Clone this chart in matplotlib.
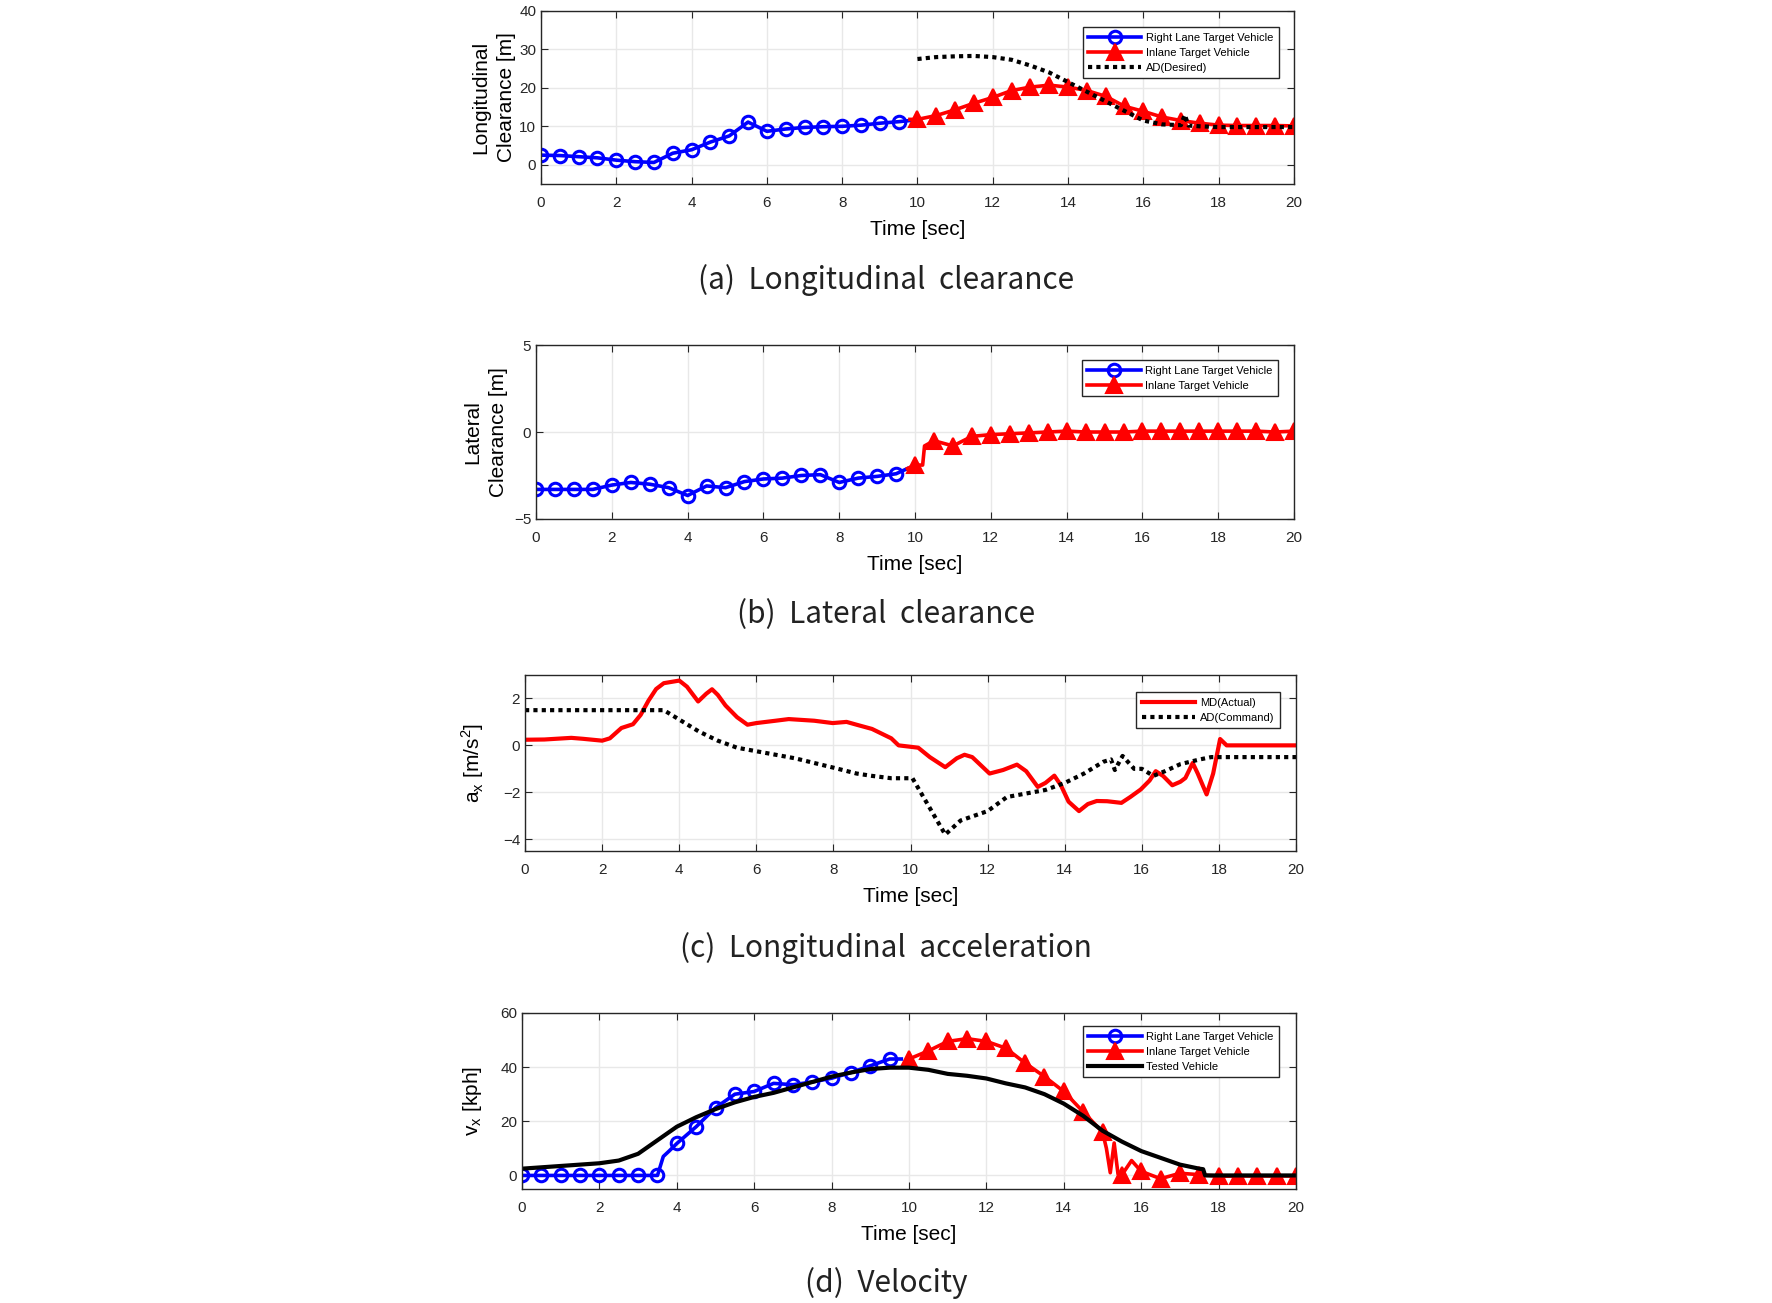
import numpy as np
import matplotlib.pyplot as plt
import matplotlib as mpl

mpl.rcParams['font.family'] = ['Liberation Sans', 'DejaVu Sans']
mpl.rcParams['xtick.direction'] = 'in'
mpl.rcParams['ytick.direction'] = 'in'
mpl.rcParams['xtick.top'] = True
mpl.rcParams['ytick.right'] = True
mpl.rcParams['xtick.labelsize'] = 11
mpl.rcParams['ytick.labelsize'] = 11
mpl.rcParams['axes.labelsize'] = 15

# ---------------- data ----------------
# (a) longitudinal clearance
ta_blue = [0, 0.5, 1, 1.5, 2, 2.5, 3, 3.5, 4, 4.5, 5, 5.5, 6, 6.5, 7, 7.5, 8, 8.5, 9, 9.5, 9.8]
ya_blue = [2.5, 2.4, 2.1, 1.8, 1.2, 0.8, 0.6, 3.0, 3.9, 5.9, 7.5, 11.1, 8.7, 9.3, 9.7, 9.9, 10.0, 10.3, 10.8, 11.2, 11.5]
ta_red = [9.8, 10, 10.5, 11, 11.5, 12, 12.5, 13, 13.5, 14, 14.5, 15, 15.5, 16, 16.5, 17, 17.5, 18, 18.5, 19, 19.5, 20]
ya_red = [11.8, 11.8, 12.8, 14.3, 16.0, 17.5, 19.3, 20.2, 20.7, 20.2, 19.3, 17.8, 15.2, 13.9, 12.4, 11.5, 10.8, 10.3, 10.2, 10.2, 10.2, 10.1]
ta_ad = [10, 10.5, 11, 11.5, 12, 12.5, 13, 13.5, 14, 14.5, 15, 15.5, 16, 16.5, 17, 17.1, 17.2, 17.5, 18, 18.5, 19, 19.5, 20]
ya_ad = [27.5, 28.0, 28.2, 28.3, 28.0, 27.3, 25.8, 24.0, 21.5, 19.0, 16.5, 14.0, 11.5, 10.5, 10.3, 13.0, 10.2, 10.0, 9.8, 9.8, 9.8, 9.8, 9.8]

# (b) lateral clearance
tb_blue = [0, 0.5, 1, 1.5, 2, 2.5, 3, 3.5, 4, 4.5, 5, 5.5, 6, 6.5, 7, 7.5, 8, 8.5, 9, 9.5, 9.8]
yb_blue = [-3.3, -3.3, -3.3, -3.3, -3.05, -2.9, -3.0, -3.2, -3.65, -3.1, -3.2, -2.85, -2.7, -2.65, -2.5, -2.45, -2.9, -2.65, -2.55, -2.4, -2.1]
tb_red = [9.8, 10, 10.2, 10.25, 10.5, 11, 11.5, 12, 12.5, 13, 13.5, 14, 14.5, 15, 15.5, 16, 16.5, 17, 17.5, 18, 18.5, 19, 19.5, 20]
yb_red = [-2.1, -1.9, -1.9, -0.8, -0.5, -0.8, -0.25, -0.15, -0.1, -0.05, 0.0, 0.05, 0.0, 0.0, 0.0, 0.05, 0.05, 0.05, 0.05, 0.05, 0.05, 0.05, 0.0, 0.05]

# (c) longitudinal acceleration
tc_md = [0, 0.5, 1.2, 1.5, 2, 2.2, 2.5, 2.8, 3, 3.2, 3.4, 3.6, 4.0, 4.2, 4.49, 4.7, 4.85, 5.0, 5.2, 5.5, 5.77,
         6.0, 6.5, 6.84, 7.5, 7.98, 8.34, 8.6, 9.0, 9.5, 9.69, 10.05, 10.2, 10.5, 10.9, 11.2, 11.4, 11.6, 12.05,
         12.4, 12.76, 13.0, 13.3, 13.5, 13.73, 13.9, 14.1, 14.37, 14.6, 14.83, 15.1, 15.47, 15.7, 15.97, 16.2,
         16.36, 16.55, 16.79, 17.0, 17.13, 17.32, 17.45, 17.68, 17.85, 18.03, 18.2, 20]
yc_md = [0.24, 0.25, 0.32, 0.28, 0.2, 0.3, 0.74, 0.9, 1.3, 1.9, 2.4, 2.65, 2.76, 2.5, 1.87, 2.2, 2.39, 2.15, 1.7, 1.2, 0.88,
         0.95, 1.05, 1.12, 1.05, 0.95, 1.0, 0.88, 0.7, 0.3, 0.0, -0.07, -0.1, -0.5, -0.93, -0.55, -0.4, -0.5, -1.2,
         -1.05, -0.82, -1.1, -1.77, -1.6, -1.29, -1.7, -2.4, -2.8, -2.5, -2.37, -2.38, -2.45, -2.2, -1.88, -1.5,
         -1.1, -1.3, -1.7, -1.55, -1.39, -0.75, -1.2, -2.09, -1.2, 0.27, 0.0, 0.0]
tc_ad = [0, 3.6, 4.0, 4.5, 5.0, 5.5, 6.0, 7.0, 8.0, 8.6, 9.0, 9.5, 10.05, 10.9, 11.3, 12.0, 12.5, 13.0, 13.5,
         14.0, 14.5, 15.0, 15.2, 15.3, 15.5, 15.8, 16.0, 16.3, 16.6, 17.0, 17.5, 17.8, 20]
yc_ad = [1.5, 1.5, 1.1, 0.6, 0.2, -0.1, -0.25, -0.55, -0.95, -1.2, -1.3, -1.4, -1.4, -3.8, -3.2, -2.8, -2.2, -2.05, -1.9,
         -1.6, -1.2, -0.7, -0.6, -1.05, -0.45, -1.0, -1.0, -1.3, -1.1, -0.8, -0.6, -0.5, -0.5]

# (d) velocity
td_blue = [0, 0.5, 1, 1.5, 2, 2.5, 3, 3.5, 3.65, 3.8, 4, 4.5, 5, 5.5, 6, 6.5, 7, 7.5, 8, 8.5, 9, 9.5, 9.8]
yd_blue = [0, 0, 0, 0, 0, 0, 0, 0, 7, 9, 11.8, 18, 25, 30, 31, 34, 33.5, 34.5, 35.9, 38, 40.5, 43, 43]
td_red = [10, 10.5, 11, 11.5, 12, 12.5, 13, 13.5, 14, 14.5, 15, 15.1, 15.2, 15.3, 15.4, 15.5, 15.75, 16, 16.5, 17,
          17.5, 18, 18.5, 19, 19.5, 20]
yd_red = [43, 46, 49.5, 50.5, 49.5, 47, 41.5, 36.5, 31, 23.5, 16, 10, 1, 12, 0.5, 0.2, 5.5, 1.5, -1.2, 0.8,
          0.3, -0.3, -0.2, -0.2, -0.2, -0.2]
td_test = [0, 1, 2, 2.5, 3, 3.5, 4, 4.5, 5, 5.5, 6, 6.5, 7, 7.5, 8, 8.5, 9, 9.5, 10, 10.5, 11, 11.5, 12, 12.5,
           13, 13.5, 14, 14.5, 15, 15.5, 16, 16.5, 17, 17.5, 17.6, 17.65, 20]
yd_test = [2.5, 3.5, 4.5, 5.5, 8, 13, 18, 21.5, 24.5, 27, 29, 30.5, 32.5, 34.5, 36.5, 38, 39.3, 39.8, 39.8, 39, 37.5,
           36.8, 35.8, 34, 32.5, 30, 26.5, 22, 16.5, 12.5, 9, 6.5, 4, 2.5, 2.3, 0, 0]

blue_style = dict(color='#0000ff', lw=2.6, marker='o', ms=9, mfc='none', mew=2.2)
red_style = dict(color='#ff0000', lw=2.6, marker='^', ms=12, mfc='#ff0000', mew=1.5)

fig = plt.figure(figsize=(17.72, 13.03), dpi=100)

def style_axes(ax, ylim, yticks):
    ax.set_xlim(0, 20)
    ax.set_ylim(*ylim)
    ax.set_xticks(range(0, 21, 2))
    ax.set_yticks(yticks)
    ax.grid(True, color='#e8e8e8', lw=1)
    ax.set_axisbelow(True)
    for s in ax.spines.values():
        s.set_color('#262626')
        s.set_linewidth(1)
    ax.tick_params(colors='#262626', length=5)
    ax.tick_params(axis='x', pad=9)
    ax.set_xlabel('Time [sec]', labelpad=7)

def add_legend(ax, anchor, fs=8):
    leg = ax.legend(loc='upper right', bbox_to_anchor=anchor, borderaxespad=0, fontsize=fs,
                    handlelength=4.8, fancybox=False, framealpha=1, edgecolor='#262626',
                    borderpad=0.5, labelspacing=0.45, handletextpad=0.4)
    leg.get_frame().set_linewidth(1)

# (a)
ax = fig.add_axes([0.3053, 0.8588, 0.4249, 0.1328])
ax.plot(ta_blue, ya_blue, markevery=list(range(20)), label='Right Lane Target Vehicle', **blue_style)
ax.plot(ta_red, ya_red, markevery=list(range(1, 22)), label='Inlane Target Vehicle', **red_style)
ax.plot(ta_ad, ya_ad, color='black', lw=3, ls=(0, (1, 1)), label='AD(Desired)')
style_axes(ax, (-5, 40), [0, 10, 20, 30, 40])
ax.set_ylabel('Longitudinal\nClearance [m]', labelpad=2, linespacing=1.45)
add_legend(ax, (0.980, 0.9075))

# (b)
ax = fig.add_axes([0.3025, 0.6017, 0.4278, 0.1335])
ax.plot(tb_blue, yb_blue, markevery=list(range(20)), label='Right Lane Target Vehicle', **blue_style)
ax.plot(tb_red, yb_red, markevery=[1] + list(range(4, 24)), label='Inlane Target Vehicle', **red_style)
style_axes(ax, (-5, 5), [-5, 0, 5])
ax.set_ylabel('Lateral\nClearance [m]', labelpad=4, linespacing=1.45)
add_legend(ax, (0.979, 0.914))

# (c)
ax = fig.add_axes([0.2963, 0.3469, 0.4351, 0.1351])
ax.plot(tc_md, yc_md, color='#ff0000', lw=3, label='MD(Actual)')
ax.plot(tc_ad, yc_ad, color='black', lw=3, ls=(0, (1, 1)), label='AD(Command)')
style_axes(ax, (-4.5, 3), [-4, -2, 0, 2])
ax.set_ylabel(r'a$_\mathregular{x}$ [m/s$^\mathregular{2}$]', labelpad=12)
add_legend(ax, (0.979, 0.903))

# (d)
ax = fig.add_axes([0.2946, 0.0875, 0.4368, 0.1351])
ax.plot(td_blue, yd_blue, markevery=[0, 1, 2, 3, 4, 5, 6, 7] + list(range(10, 22)),
        label='Right Lane Target Vehicle', **blue_style)
ax.plot(td_red, yd_red, markevery=list(range(0, 11)) + [15] + list(range(17, 26)),
        label='Inlane Target Vehicle', **red_style)
ax.plot(td_test, yd_test, color='black', lw=3, label='Tested Vehicle')
style_axes(ax, (-5, 60), [0, 20, 40, 60])
ax.set_ylabel(r'v$_\mathregular{x}$ [kph]', labelpad=12)
add_legend(ax, (0.978, 0.926))

# captions
cap_kw = dict(ha='center', va='center', fontsize=21.5, family=['Noto Sans CJK KR', 'DejaVu Sans'],
              weight='light', color='#222222')
fig.text(0.5, 1 - 280 / 1303, '(a)  Longitudinal  clearance', **cap_kw)
fig.text(0.5, 1 - 615 / 1303, '(b)  Lateral  clearance', **cap_kw)
fig.text(0.5, 1 - 948 / 1303, '(c)  Longitudinal  acceleration', **cap_kw)
fig.text(0.5, 1 - 1283 / 1303, '(d)  Velocity', **cap_kw)

fig.savefig('out.png', dpi=100)
